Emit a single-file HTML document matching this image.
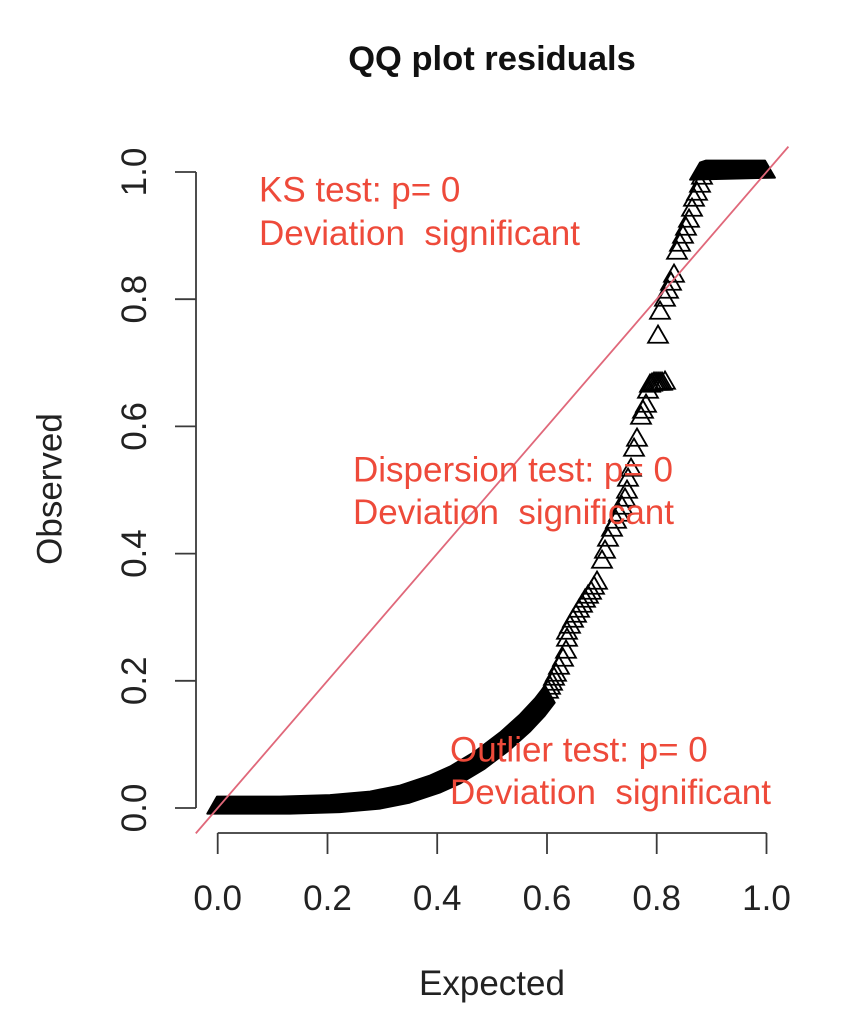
<!DOCTYPE html>
<html>
<head>
<meta charset="utf-8">
<style>
html,body{margin:0;padding:0;background:#fff;}
svg{display:block;}
text{font-family:"Liberation Sans",Arial,sans-serif;}
</style>
</head>
<body>
<svg width="858" height="1034" viewBox="0 0 858 1034" xmlns="http://www.w3.org/2000/svg">
<defs>
<path id="t" d="M0,-11.5L9.96,5.75L-9.96,5.75Z" fill="none" stroke="#000" stroke-width="1.8"/>
</defs>
<rect width="858" height="1034" fill="#fff"/>

<text x="492" y="70" font-size="34.5" font-weight="bold" text-anchor="middle" fill="#111">QQ plot residuals</text>

<g stroke="#3a3a3a" stroke-width="1.8" fill="none">
<line x1="196" y1="172" x2="196" y2="808"/>
<line x1="175" y1="808" x2="196" y2="808"/>
<line x1="175" y1="680.8" x2="196" y2="680.8"/>
<line x1="175" y1="553.6" x2="196" y2="553.6"/>
<line x1="175" y1="426.4" x2="196" y2="426.4"/>
<line x1="175" y1="299.2" x2="196" y2="299.2"/>
<line x1="175" y1="172" x2="196" y2="172"/>
<line x1="217.7" y1="833" x2="766.5" y2="833"/>
<line x1="217.7" y1="833" x2="217.7" y2="854"/>
<line x1="327.5" y1="833" x2="327.5" y2="854"/>
<line x1="437.2" y1="833" x2="437.2" y2="854"/>
<line x1="547" y1="833" x2="547" y2="854"/>
<line x1="656.7" y1="833" x2="656.7" y2="854"/>
<line x1="766.5" y1="833" x2="766.5" y2="854"/>
</g>

<g font-size="35" fill="#222" text-anchor="middle">
<text x="217.7" y="910">0.0</text>
<text x="327.5" y="910">0.2</text>
<text x="437.2" y="910">0.4</text>
<text x="547" y="910">0.6</text>
<text x="656.7" y="910">0.8</text>
<text x="766.5" y="910">1.0</text>
<text transform="translate(146,808) rotate(-90)">0.0</text>
<text transform="translate(146,680.8) rotate(-90)">0.2</text>
<text transform="translate(146,553.6) rotate(-90)">0.4</text>
<text transform="translate(146,426.4) rotate(-90)">0.6</text>
<text transform="translate(146,299.2) rotate(-90)">0.8</text>
<text transform="translate(146,172) rotate(-90)">1.0</text>
<text x="492" y="995">Expected</text>
<text transform="translate(61.5,489) rotate(-90)">Observed</text>
</g>

<polygon fill="#000" stroke="#000" stroke-width="1.8" stroke-linejoin="round"
points="207.2,813.7 217,796.5 280,796.5 330,795 370,791.5 400,785.5 430,775.5 450,766.5 475,751.5 500,732.5 520,714.5 535,698.5 545,685.5 554.8,702.7 544.8,715.7 529.8,731.7 509.8,749.7 484.8,768.7 459.8,783.7 439.8,792.7 409.8,802.7 379.8,808.7 339.8,812.2 289.8,813.7 226.8,813.7"/>

<polygon fill="#000" stroke="#000" stroke-width="1.8" stroke-linejoin="round"
points="700,162.5 706,160.5 765,160.5 775,177.7 690,179.7"/>

<g>
<use href="#t" x="548" y="692"/>
<use href="#t" x="550" y="688"/>
<use href="#t" x="552" y="684"/>
<use href="#t" x="554" y="679"/>
<use href="#t" x="556" y="675"/>
<use href="#t" x="559" y="668"/>
<use href="#t" x="563" y="660"/>
<use href="#t" x="566" y="652"/>
<use href="#t" x="567" y="640"/>
<use href="#t" x="567" y="633"/>
<use href="#t" x="570" y="627"/>
<use href="#t" x="573" y="621"/>
<use href="#t" x="576" y="616"/>
<use href="#t" x="579" y="611"/>
<use href="#t" x="582" y="606"/>
<use href="#t" x="585" y="601"/>
<use href="#t" x="588" y="597"/>
<use href="#t" x="591" y="593"/>
<use href="#t" x="594" y="588"/>
<use href="#t" x="597" y="583"/>
<use href="#t" x="602" y="562"/>
<use href="#t" x="605" y="552"/>
<use href="#t" x="608" y="540"/>
<use href="#t" x="612" y="530"/>
<use href="#t" x="616" y="522"/>
<use href="#t" x="619" y="515"/>
<use href="#t" x="622" y="508"/>
<use href="#t" x="625" y="500"/>
<use href="#t" x="627" y="492"/>
<use href="#t" x="628" y="480"/>
<use href="#t" x="631" y="470"/>
<use href="#t" x="634" y="450"/>
<use href="#t" x="637" y="440"/>
<use href="#t" x="641" y="418"/>
<use href="#t" x="643" y="412"/>
<use href="#t" x="646" y="406"/>
<use href="#t" x="648" y="392"/>
<use href="#t" x="650" y="386"/>
<use href="#t" x="652" y="385"/>
<use href="#t" x="654" y="384"/>
<use href="#t" x="656" y="384"/>
<use href="#t" x="658" y="384"/>
<use href="#t" x="660" y="384"/>
<use href="#t" x="662" y="384"/>
<use href="#t" x="665" y="383"/>
<use href="#t" x="658" y="337"/>
<use href="#t" x="660" y="313"/>
<use href="#t" x="665" y="300"/>
<use href="#t" x="668" y="292"/>
<use href="#t" x="671" y="284"/>
<use href="#t" x="674" y="276"/>
<use href="#t" x="677" y="253"/>
<use href="#t" x="680" y="245"/>
<use href="#t" x="683" y="237"/>
<use href="#t" x="686" y="229"/>
<use href="#t" x="689" y="221"/>
<use href="#t" x="692" y="210"/>
<use href="#t" x="694" y="200"/>
<use href="#t" x="697" y="194"/>
<use href="#t" x="700" y="186"/>
<use href="#t" x="702" y="178"/>
</g>

<line x1="195.8" y1="833.4" x2="788.4" y2="146.6" stroke="#e0687a" stroke-width="1.8"/>

<g font-size="35" fill="#ee4a3a">
<text x="259" y="201.7">KS test: p= 0</text>
<text x="259" y="245">Deviation&#160; significant</text>
<text x="353" y="481.7">Dispersion test: p= 0</text>
<text x="353" y="524">Deviation&#160; significant</text>
<text x="450" y="761.7">Outlier test: p= 0</text>
<text x="450" y="804">Deviation&#160; significant</text>
</g>
</svg>
</body>
</html>
